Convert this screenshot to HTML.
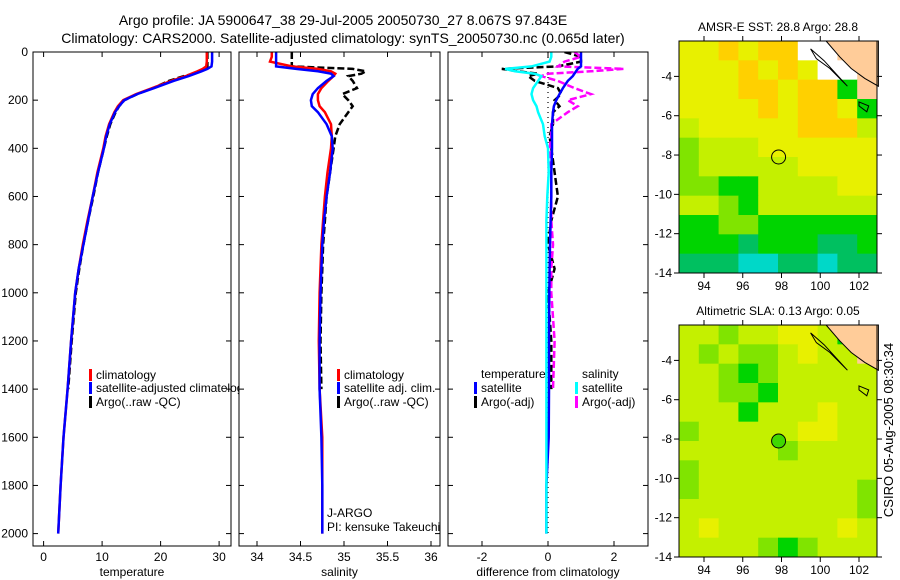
<!DOCTYPE html>
<html><head><meta charset="utf-8"><style>
html,body{margin:0;padding:0;background:#fff;}
svg{display:block;font-family:"Liberation Sans",sans-serif;}
</style></head><body>
<svg id="fig" width="900" height="580" viewBox="0 0 900 580" xmlns="http://www.w3.org/2000/svg">
<rect width="900" height="580" fill="#fff"/>
<text x="343" y="25" font-size="14" text-anchor="middle">Argo profile: JA 5900647_38 29-Jul-2005 20050730_27 8.067S 97.843E</text>
<text x="343" y="43" font-size="14" text-anchor="middle">Climatology: CARS2000. Satellite-adjusted climatology: synTS_20050730.nc (0.065d later)</text>
<g id="panels"></g>
<g id="maps"></g>
<text transform="translate(893,430) rotate(-90)" font-size="13" text-anchor="middle">CSIRO 05-Aug-2005 08:30:34</text>
</svg>
<script>
// ---- data ----
const depths = [0,20,40,60,70,80,90,100,120,150,175,200,225,250,300,350,400,500,600,700,800,900,1000,1200,1400,1600,1800,2000];
const tempClim = [27.9,27.9,27.9,27.8,27.2,26.3,25.3,24.3,21.8,18.6,15.8,13.6,12.7,12.1,11.2,10.6,10.2,9.2,8.4,7.5,6.7,6.0,5.4,4.7,4.1,3.4,2.9,2.5];
const tempSat = [28.8,28.8,28.8,28.7,28.0,27.0,25.9,24.8,22.2,18.9,16.0,13.8,12.9,12.2,11.3,10.7,10.3,9.3,8.4,7.6,6.8,6.0,5.4,4.7,4.1,3.4,2.9,2.5];
const tempArgo = [28.0,28.0,28.0,28.0,27.7,26.8,25.6,24.0,21.4,18.7,16.0,13.8,12.9,12.3,11.4,10.8,10.3,9.3,8.5,7.6,6.8,6.1,5.5,4.8,4.2];
const salClim = [34.17,34.17,34.15,34.40,34.70,34.85,34.90,34.88,34.82,34.74,34.70,34.70,34.72,34.78,34.85,34.86,34.85,34.81,34.78,34.76,34.74,34.73,34.72,34.71,34.72,34.75,34.75,34.75];
const salSat = [34.22,34.22,34.22,34.22,34.45,34.70,34.85,34.88,34.80,34.70,34.64,34.62,34.63,34.70,34.80,34.86,34.87,34.84,34.80,34.77,34.75,34.74,34.73,34.72,34.72,34.74,34.75,34.75];
const salArgo = [34.40,34.40,34.40,34.40,35.10,35.25,35.20,35.05,35.10,35.15,34.98,35.05,35.10,35.05,34.95,34.90,34.88,34.84,34.80,34.78,34.76,34.75,34.74,34.73,34.74];
const dTempSat = [1.0,1.0,1.0,1.0,0.9,0.85,0.8,0.75,0.6,0.45,0.35,0.25,0.18,0.15,0.12,0.12,0.12,0.1,0.1,0.08,0.06,0.05,0.04,0.03,0.03,0.02,-0.05,-0.05];
const dSalSat = [0.1,0.1,0.05,-0.5,-1.3,-1.0,-0.4,-0.2,-0.3,-0.45,-0.5,-0.45,-0.35,-0.3,-0.15,-0.1,0.0,0.02,-0.02,-0.05,-0.05,-0.05,-0.05,-0.05,-0.05,-0.05,-0.05,-0.05];
const dTempArgo = [0.5,1.0,1.0,0.3,-1.4,-0.9,-0.3,-0.6,-0.4,0.3,0.4,0.2,0.35,0.15,0.15,0.05,0.1,0.2,0.3,0.1,0.0,0.2,0.0,0.1,0.1];
const dSalArgo = [0.8,1.0,0.5,0.3,2.3,1.3,0.0,-0.2,0.3,0.8,1.3,0.6,0.9,0.6,0.1,0.1,0.05,0.1,0.1,0.1,0.15,0.1,0.1,0.2,0.15];
const depthTicks = [0,200,400,600,800,1000,1200,1400,1600,1800,2000];
const tempTicks = [0,10,20,30];
const salTicks = [34,34.5,35,35.5,36];
const salTickLabels = ["34","34.5","35","35.5","36"];
const diffTicks = [-2,0,2];
const lonTicks = [94,96,98,100,102];
const latTicks = [-4,-6,-8,-10,-12,-14];

// ---- helpers ----
const NS="http://www.w3.org/2000/svg";
function mk(tag,attrs,parent){const e=document.createElementNS(NS,tag);for(const k in attrs)e.setAttribute(k,attrs[k]);parent.appendChild(e);return e;}
const TOP=52, BOT=546;
const yDepth = d => 52 + d*(533.6-52)/2000;

const panelsG=document.getElementById('panels');
function panel(name,x0,x1,xs,ticks,labels,title,series){
  const g=mk('g',{},panelsG);
  
  
  const bg=mk('rect',{x:x0,y:TOP,width:x1-x0,height:BOT-TOP,fill:'#fff'},g);
  
  
  const cid='clip-'+name;
  const cp=mk('clipPath',{id:cid},g);mk('rect',{x:x0,y:TOP,width:x1-x0,height:BOT-TOP},cp);
  const sg=mk('g',{'clip-path':'url(#'+cid+')'},g);
  series.forEach(s=>{
    let pts=s.v.map((v,i)=>xs(v).toFixed(1)+','+yDepth(depths[i]).toFixed(1)).join(' ');
    const pl=mk('polyline',{points:pts,fill:'none',stroke:s.c,'stroke-width':s.w||2.5,'stroke-dasharray':s.dash||'none'},sg);
    
    
  });
  ticks.forEach((t,i)=>{
    const x=xs(t);
    mk('line',{x1:x,y1:BOT,x2:x,y2:BOT-5,stroke:'#000'},g);
    mk('line',{x1:x,y1:TOP,x2:x,y2:TOP+5,stroke:'#000'},g);
    const tl=mk('text',{x:x,y:561,'font-size':12,'text-anchor':'middle'},g);
    tl.textContent=labels[i];
    
    
  });
  depthTicks.forEach(d=>{
    mk('line',{x1:x0,y1:yDepth(d),x2:x0+5,y2:yDepth(d),stroke:'#000'},g);
    mk('line',{x1:x1,y1:yDepth(d),x2:x1-5,y2:yDepth(d),stroke:'#000'},g);
  });
  mk('rect',{x:x0,y:TOP,width:x1-x0,height:BOT-TOP,fill:'none',stroke:'#000','stroke-width':1},g);
  const xt=mk('text',{x:(x0+x1)/2,y:576,'font-size':12,'text-anchor':'middle'},g);
  xt.textContent=title;
  
  
  return g;
}
function legend(g,x,y,color,label){
  mk('rect',{x:x,y:y-9,width:3,height:12,fill:color},g);
  const t=mk('text',{x:x+7,y:y+1,'font-size':12},g);
  t.textContent=label;
  
  
}
// Panel 1 temperature
const xT=v=>43.6+v*5.85;
const p1=panel('temperature-panel',33,231,xT,tempTicks,tempTicks.map(String),'temperature',[
 {v:tempArgo,c:'#000',dash:'7,3',n:'argo-temperature-line'},
 {v:tempClim,c:'#f00',n:'climatology-temperature-line'},
 {v:tempSat,c:'#00f',n:'satellite-temperature-line'}]);
legend(p1,89,378,'#f00','climatology');
legend(p1,89,391,'#00f','satellite-adjusted climatelogy');
legend(p1,89,405,'#000','Argo(..raw -QC)');
depthTicks.forEach(d=>{const t=mk('text',{x:28,y:yDepth(d)+4,'font-size':12,'text-anchor':'end'},p1);t.textContent=d;
 
 });
// Panel 2 salinity
const xS=v=>257+(v-34)*87;
const p2=panel('salinity-panel',239,440,xS,salTicks,salTickLabels,'salinity',[
 {v:salArgo,c:'#000',dash:'7,3',n:'argo-salinity-line'},
 {v:salClim,c:'#f00',n:'climatology-salinity-line'},
 {v:salSat,c:'#00f',n:'satellite-salinity-line'}]);
legend(p2,337,378,'#f00','climatology');
legend(p2,337,391,'#00f','satellite adj. clim.');
legend(p2,337,405,'#000','Argo(..raw -QC)');
const j1=mk('text',{x:327,y:517,'font-size':12},p2);j1.textContent='J-ARGO';


const j2=mk('text',{x:327,y:531,'font-size':12},p2);j2.textContent='PI: kensuke Takeuchi';


// Panel 3 difference
const xD=v=>548+v*33;
const p3=panel('difference-panel',448,648,xD,diffTicks,diffTicks.map(String),'difference from climatology',[
 {v:depths.map(()=>0),c:'#000',dash:'1,4',w:1.2,n:'zero-line'},
 {v:dTempArgo,c:'#000',dash:'7,3',n:'argo-temperature-diff-line'},
 {v:dSalArgo,c:'#f0f',dash:'7,3',n:'argo-salinity-diff-line'},
 {v:dTempSat,c:'#00f',n:'satellite-temperature-diff-line'},
 {v:dSalSat,c:'#0ff',n:'satellite-salinity-diff-line'}]);
const lt=mk('text',{x:481,y:378,'font-size':12},p3);lt.textContent='temperature';


const ls=mk('text',{x:582,y:378,'font-size':12},p3);ls.textContent='salinity';


legend(p3,474,391,'#00f','satellite');
legend(p3,474,405,'#000','Argo(-adj)');
legend(p3,575,391,'#0ff','satellite');
legend(p3,575,405,'#f0f','Argo(-adj)');

// ---- maps ----
const pal={O:'#ffd000',Y:'#e8f000',y:'#c4f000',g:'#80e400',G:'#00d400',D:'#00c060',C:'#00d8c8',B:'#00c8f0',W:'#ffffff',L:'#ffcc99'};
const sstGrid=["YYOYOOWWLL","YYYOYOYWWL","YYYOOYOOGL","YYYYOYOOYG","yYYYYYOOOy","gyyyYYYYYY","gyyyyyYYYY","ggGGyyyyYY","yygGyyyyyy","GGggGGGGGG","GGGDGGGDDG","DDDCCDDCDD"];
const slaGrid=["yygyyYYyGL","ygyggyYyyL","yygGgyyyyy","yyggGyyyyy","yyyGyyyYyy","gyyyyyYYyy","yyyyygyyyy","gyyyyyyyyy","gyyyyyyyyg","yyyyyyyyyg","yYyyyyyyYy","yyyygGgyyy"];
const mapsG=document.getElementById('maps');
function map(name,top,bot,title,grid,lat0,filled){
  const L=679,R=877;
  const lon=v=>704+(v-94)*19.375;
  const lat=v=>top+(lat0-v)*(bot-top)/(lat0+14);
  const g=mk('g',{},mapsG);
  
  
  const cw=(R-L)/10,ch=(bot-top)/12;
  grid.forEach((row,r)=>[...row].forEach((c,k)=>{
    mk('rect',{x:L+k*cw,y:top+r*ch,width:cw+0.5,height:ch+0.5,fill:pal[c]},g);
  }));
  const poly=(pts,fill,stroke)=>mk('polygon',{points:pts.map(p=>lon(p[0]).toFixed(1)+','+lat(p[1]).toFixed(1)).join(' '),fill:fill,stroke:stroke||'none','stroke-width':1},g);
  const land=poly([[100.3,lat0],[101,-3],[101.6,-3.6],[102.3,-4.1],[103,-4.5],[103,lat0]],pal.L,'#000');
  
  
  poly([[99.5,-2.6],[100.2,-3.2],[101.4,-4.5],[101.2,-4.3],[100.5,-3.6],[99.8,-3.1]],'none','#000');
  poly([[102,-5.3],[102.5,-5.5],[102.4,-5.8],[102.0,-5.5]],'none','#000');
  const c=mk('circle',{cx:lon(97.85),cy:lat(-8.1),r:7,fill:filled?'#40d800':'none',stroke:'#000','stroke-width':1},g);
  
  
  mk('rect',{x:L,y:top,width:R-L,height:bot-top,fill:'none',stroke:'#000'},g);
  lonTicks.forEach(v=>{const x=lon(v);mk('line',{x1:x,y1:bot,x2:x,y2:bot+5,stroke:'#000'},g);mk('line',{x1:x,y1:top,x2:x,y2:top-5,stroke:'#000'},g);
    const t=mk('text',{x:x,y:bot+17,'font-size':12,'text-anchor':'middle'},g);t.textContent=v;
    
    });
  latTicks.forEach(v=>{const y=lat(v);mk('line',{x1:L,y1:y,x2:L-5,y2:y,stroke:'#000'},g);mk('line',{x1:R,y1:y,x2:R+5,y2:y,stroke:'#000'},g);
    const t=mk('text',{x:L-7,y:y+4,'font-size':12,'text-anchor':'end'},g);t.textContent=v;
    
    });
  const tt=mk('text',{x:(L+R)/2,y:top-10,'font-size':12,'text-anchor':'middle'},g);tt.textContent=title;
  
  
}
map('sst-map',41,273,'AMSR-E SST: 28.8 Argo: 28.8',sstGrid,-2.2,false);
map('sla-map',325,557,'Altimetric SLA: 0.13 Argo: 0.05',slaGrid,-2.2,true);
</script>
</body></html>
